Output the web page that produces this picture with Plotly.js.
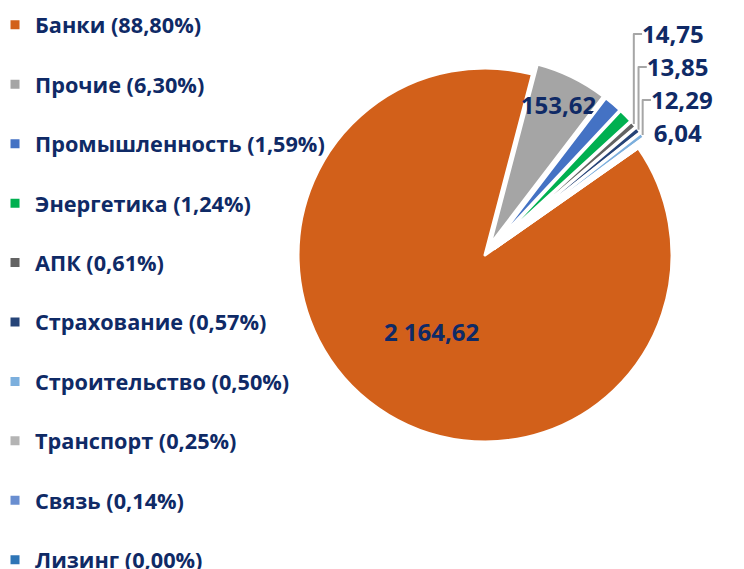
<!DOCTYPE html>
<html>
<head>
<meta charset="utf-8">
<script src="https://cdn.plot.ly/plotly-3.0.1.min.js"></script>
<style>
  html, body { margin: 0; padding: 0; background: #ffffff; }
  #graph { width: 744px; height: 569px; }
</style>
</head>
<body>
<div id="graph"></div>
<script>
// sectors of the portfolio
var sectors = ['Банки', 'Прочие', 'Промышленность', 'Энергетика', 'АПК',
               'Страхование', 'Строительство', 'Транспорт', 'Связь', 'Лизинг'];
// amounts
var amounts = [2164.62, 153.62, 38.75, 30.20, 14.75, 13.85, 12.29, 6.04, 3.41, 0];
// shares as printed in the legend
var shares = ['88,80%', '6,30%', '1,59%', '1,24%', '0,61%', '0,57%', '0,50%', '0,25%', '0,14%', '0,00%'];
// which slices carry a value label
var labelPos = ['inside', 'inside', 'none', 'none', 'outside', 'outside', 'outside', 'outside', 'none', 'none'];

var sliceColors = ['#D2601A', '#A5A5A5', '#4472C4', '#00B050', '#636363',
                   '#264478', '#7CAFDD', '#B4B4B4', '#698ED0', '#2E75B6'];
var navy = '#0F2A66';
var fontFam = '"Open Sans", "Noto Sans", sans-serif';

// legend text: name + share, with an empty line to space the entries
var legendText = []
for (var i = 0; i < sectors.length; i++) {
	var t = sectors[i] + ' (' + shares[i] + ')'
	if (i < sectors.length - 1) t += '<br> '
	legendText[i] = t
}

var pulls = []
var templates = []
for (var i = 0; i < sectors.length; i++) {
	pulls[i] = i == 0 ? 0 : 0.06
	templates[i] = labelPos[i] == 'none' ? '' : '%{value:,.2f}'
}

var trace = {
	type: 'pie',
	labels: legendText,
	values: amounts,
	sort: false,
	direction: 'clockwise',
	rotation: 55,
	pull: pulls,
	marker: {
		colors: sliceColors,
		line: { color: '#ffffff', width: 3 }
	},
	texttemplate: templates,
	textposition: labelPos,
	insidetextorientation: 'horizontal',
	textfont: { family: fontFam, size: 24, color: navy, weight: 'bold' },
	hoverinfo: 'none',
	domain: { x: [0.3855, 0.9183], y: [0.2035, 0.9002] }
}

var layout = {
	width: 744,
	height: 569,
	margin: { l: 0, r: 0, t: 0, b: 0, autoexpand: false },
	paper_bgcolor: '#ffffff',
	separators: ', ',
	showlegend: true,
	uniformtext: { mode: 'show', minsize: 24 },
	legend: {
		x: -0.0067, y: 0.9925, xanchor: 'left', yanchor: 'top',
		valign: 'top',
		maxheight: 900,
		bgcolor: 'rgba(0,0,0,0)',
		font: { family: fontFam, size: 21.7, color: navy, weight: 'bold' }
	}
}

Plotly.newPlot('graph', [trace], layout, { staticPlot: true }).then(function (gd) {
	// leader lines of the outside labels are grey in the original
	var lines = gd.querySelectorAll('path.textline')
	for (var i = 0; i < lines.length; i++) {
		lines[i].style.stroke = '#A6A6A6'
	}
})
</script>
</body>
</html>
